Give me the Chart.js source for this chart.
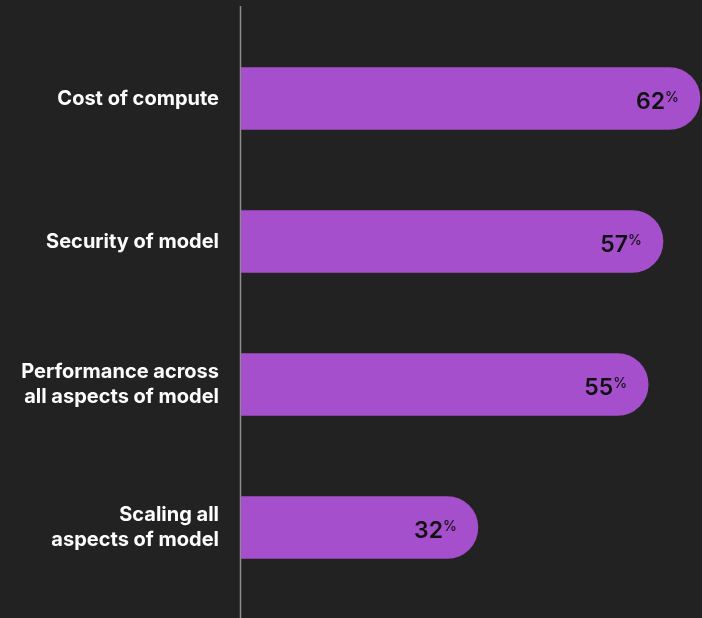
<!DOCTYPE html>
<html>
<head>
<meta charset="utf-8">
<script src="https://cdn.jsdelivr.net/npm/chart.js@4"></script>
<style>
  html, body { margin: 0; padding: 0; background: #222222; }
  #wrap { width: 702px; height: 618px; }
</style>
</head>
<body>
<div id="wrap"><canvas id="chart"></canvas></div>
<script>
// Chart data
const categories = [
  'Cost of compute',
  'Security of model',
  ['Performance across', 'all aspects of model'],
  ['Scaling all', 'aspects of model']
];
const shares = [62, 57, 55, 32];

const barColor = '#a54fcc';

// Vertical axis line, running the full height of the picture
const axisLine = {
  id: 'axisLine',
  beforeDatasetsDraw(chart) {
    const ctx = chart.ctx;
    const x = chart.scales.x.left - 0.5;
    ctx.save();
    ctx.strokeStyle = '#8c8c8c';
    ctx.lineWidth = 1.5;
    ctx.beginPath();
    ctx.moveTo(x, 6);
    ctx.lineTo(x, chart.height);
    ctx.stroke();
    ctx.restore();
  }
};

// Value labels inside bar ends, with a small raised %
const valueLabels = {
  id: 'valueLabels',
  afterDatasetsDraw(chart) {
    const ctx = chart.ctx;
    const meta = chart.getDatasetMeta(0);
    ctx.save();
    ctx.fillStyle = '#111111';
    ctx.textBaseline = 'alphabetic';
    ctx.textAlign = 'right';
    meta.data.forEach((bar, i) => {
      const right = bar.x - 21;
      ctx.font = '500 14px Inter';
      ctx.fillText('%', right, bar.y + 3);
      const pw = ctx.measureText('%').width;
      ctx.font = '600 23px Inter';
      ctx.fillText(String(shares[i]), right - pw, bar.y + 10.5);
    });
    ctx.restore();
  }
};

new Chart(document.getElementById('chart'), {
  type: 'bar',
  data: {
    labels: categories,
    datasets: [{
      data: shares,
      backgroundColor: barColor,
      borderWidth: 0,
      borderSkipped: 'start',
      borderRadius: { topLeft: 0, bottomLeft: 0, topRight: 31, bottomRight: 31 },
      barThickness: 62
    }]
  },
  options: {
    indexAxis: 'y',
    responsive: true,
    maintainAspectRatio: false,
    animation: false,
    layout: { padding: { top: 27, bottom: 19, right: 0, left: 0 } },
    plugins: {
      legend: { display: false },
      tooltip: { enabled: false }
    },
    scales: {
      x: {
        min: 0,
        max: 62.27,
        display: false
      },
      y: {
        grid: { display: false, drawTicks: false },
        border: { display: false },
        afterFit(scale) {
          scale.width = 241;
          scale.paddingTop = 0;
          scale.paddingBottom = 0;
        },
        ticks: {
          color: '#ffffff',
          padding: 22,
          font: { family: 'Inter', size: 20, weight: '700', lineHeight: 1.25 }
        }
      }
    }
  },
  plugins: [axisLine, valueLabels]
});
</script>
</body>
</html>
